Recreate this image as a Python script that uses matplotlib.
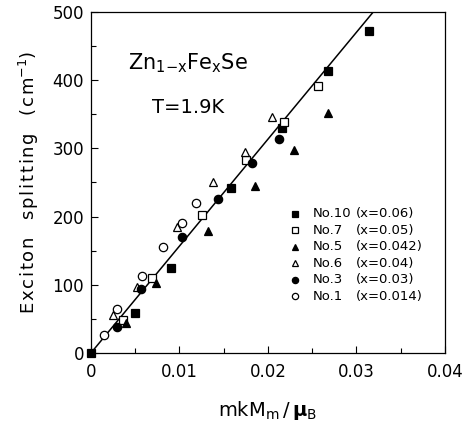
import numpy as np
import matplotlib.pyplot as plt
from matplotlib.ticker import MultipleLocator

plt.rcParams['font.family'] = ['DejaVu Sans']
plt.rcParams['mathtext.fontset'] = 'dejavusans'

# data (x = mkM_m/mu_B, y = splitting in cm^-1)
no10_x = [0.0, 0.0050, 0.0090, 0.0158, 0.0216, 0.0268, 0.0314]
no10_y = [0, 58, 125, 242, 330, 413, 472]
no7_x = [0.0036, 0.0069, 0.0125, 0.0175, 0.0218, 0.0256]
no7_y = [48, 110, 202, 283, 339, 391]
no5_x = [0.0040, 0.0073, 0.0132, 0.0185, 0.0229, 0.0268]
no5_y = [44, 103, 179, 245, 298, 352]
no6_x = [0.0025, 0.0052, 0.0097, 0.0138, 0.0174, 0.0205]
no6_y = [56, 97, 185, 251, 295, 346]
no3_x = [0.0029, 0.0057, 0.0103, 0.0144, 0.0182, 0.0212]
no3_y = [38, 94, 170, 226, 278, 314]
no1_x = [0.0015, 0.0030, 0.0058, 0.0081, 0.0103, 0.0119]
no1_y = [26, 64, 113, 155, 190, 220]

fit_x = [0.0, 0.034]
slope = 500 / 0.0319

names = ['No.10', 'No.7', 'No.5', 'No.6', 'No.3', 'No.1']
conc = ['(x=0.06)', '(x=0.05)', '(x=0.042)', '(x=0.04)', '(x=0.03)', '(x=0.014)']

series = [
    (no10_x, no10_y, 's', 'black'),
    (no7_x, no7_y, 's', 'white'),
    (no5_x, no5_y, '^', 'black'),
    (no6_x, no6_y, '^', 'white'),
    (no3_x, no3_y, 'o', 'black'),
    (no1_x, no1_y, 'o', 'white'),
]


def spaced(word):
    # the original label is set with wide letter spacing
    return '\u200a'.join(word)


fig = plt.figure(figsize=(4.64, 4.26), dpi=100)
ax = fig.add_axes([0.196, 0.1714, 0.763, 0.8006])

ax.plot(fit_x, [slope * v for v in fit_x], color='black', lw=1.1, zorder=2)

for sx, sy, m, fc in series:
    ax.plot(sx, sy, linestyle='none', marker=m, ms=6, mfc=fc, mec='black',
            mew=0.9, zorder=3, clip_on=False)

ax.set_xlim(0, 0.04)
ax.set_ylim(0, 500)
ax.set_xticks([0, 0.01, 0.02, 0.03, 0.04])
ax.set_xticklabels(['0', '0.01', '0.02', '0.03', '0.04'])
ax.set_yticks([0, 100, 200, 300, 400, 500])
ax.xaxis.set_minor_locator(MultipleLocator(0.005))
ax.yaxis.set_minor_locator(MultipleLocator(50))
ax.tick_params(which='both', direction='in', top=False, right=False,
               labelsize=12, width=0.8)
ax.tick_params(axis='x', pad=7)
ax.tick_params(axis='y', pad=5)
ax.tick_params(which='major', length=5)
ax.tick_params(which='minor', length=3.5)
for s in ax.spines.values():
    s.set_linewidth(0.9)

ax.set_xlabel(r'mkM$_{\mathrm{m}}\,$/$\,\mathbf{\mu}_{\mathrm{B}}$', fontsize=14, labelpad=13)
ylab = spaced('Exciton') + '   ' + spaced('splitting') + '   ' + spaced('(cm') + r'$^{-1}$)'
ax.set_ylabel(ylab, fontsize=13, labelpad=8)

ax.text(0.105, 0.85, r'Zn$_{1\mathrm{-x}}$Fe$_{\mathrm{x}}$Se', transform=ax.transAxes,
        fontsize=15, va='center')
ax.text(0.172, 0.721, 'T=1.9K', transform=ax.transAxes, fontsize=14, va='center')

# legend drawn by hand to keep the two-column look
for i, (sx, sy, m, fc) in enumerate(series):
    yy = 0.408 - i * 0.0484
    ax.plot([0.576], [yy], marker=m, ms=4.5, mfc=fc, mec='black', mew=0.9,
            transform=ax.transAxes, linestyle='none', clip_on=False)
    ax.text(0.627, yy, names[i], transform=ax.transAxes, fontsize=9.5, va='center')
    ax.text(0.748, yy, conc[i], transform=ax.transAxes, fontsize=9.5, va='center')

fig.savefig('out.png', dpi=100)
